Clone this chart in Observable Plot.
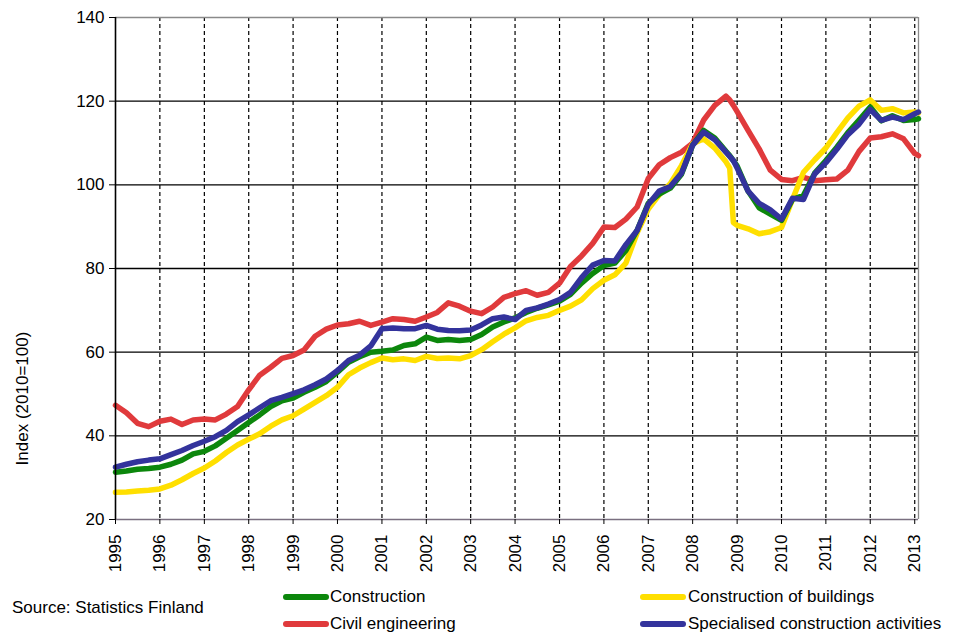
<!DOCTYPE html>
<html>
<head>
<meta charset="utf-8">
<script src="https://cdn.jsdelivr.net/npm/d3@7"></script>
<script src="https://cdn.jsdelivr.net/npm/@observablehq/plot@0.6"></script>
<style>
  html, body { margin: 0; padding: 0; background: #fff; }
  body { font-family: "Liberation Sans", Arial, sans-serif; width: 965px; height: 636px; overflow: hidden; }
  #chart svg { display: block; }
  #legend { position: relative; width: 965px; height: 54px; font-size: 17px; color: #000; }
  #legend .txt { position: absolute; white-space: nowrap; line-height: 20px; }
  #legend .sw { position: absolute; height: 6px; border-radius: 3px; }
</style>
</head>
<body>
<div id="chart"></div>
<div id="legend"></div>
<script>
// ---- data ----
const months = [
  "1995-01","1995-04","1995-07","1995-10",
  "1996-01","1996-04","1996-07","1996-10",
  "1997-01","1997-04","1997-07","1997-10",
  "1998-01","1998-04","1998-07","1998-10",
  "1999-01","1999-04","1999-07","1999-10",
  "2000-01","2000-04","2000-07","2000-10",
  "2001-01","2001-04","2001-07","2001-10",
  "2002-01","2002-04","2002-07","2002-10",
  "2003-01","2003-04","2003-07","2003-10",
  "2004-01","2004-04","2004-07","2004-10",
  "2005-01","2005-04","2005-07","2005-10",
  "2006-01","2006-04","2006-07","2006-10",
  "2007-01","2007-04","2007-07","2007-10",
  "2008-01","2008-04","2008-07","2008-10","2008-11","2008-12",
  "2009-01","2009-04","2009-07","2009-10",
  "2010-01","2010-04","2010-07","2010-10",
  "2011-01","2011-04","2011-07","2011-10",
  "2012-01","2012-04","2012-07","2012-10",
  "2013-01","2013-02"
];

const construction = [
  31.3, 31.6, 32.0, 32.2,
  32.5, 33.2, 34.2, 35.7,
  36.3, 37.6, 39.4, 41.3,
  43.2, 45.0, 47.0, 48.4,
  49.0, 50.4, 51.6, 53.0,
  55.2, 57.6, 58.9, 60.0,
  60.2, 60.5, 61.6, 62.0,
  63.6, 62.8, 63.0, 62.8,
  63.0, 64.2, 66.0, 67.2,
  68.2, 69.5, 70.5, 71.3,
  72.2, 73.8, 76.5, 78.8,
  80.7, 81.3, 84.3, 89.1,
  95.6, 97.8, 99.2, 102.5,
  109.5, 113.0, 111.2, 108.0, 107.0, 105.8,
  104.5, 98.5, 94.5, 93.0,
  91.5, 96.5, 97.5, 102.8,
  105.8, 109.0, 112.5, 115.5,
  118.6, 115.3, 116.5, 115.4,
  115.6, 115.8
];

const buildings = [
  26.5, 26.6, 26.8, 27.0,
  27.3, 28.2, 29.5, 31.0,
  32.3, 34.0, 36.0, 37.8,
  39.2, 40.5, 42.3, 43.8,
  44.8, 46.4, 48.0, 49.6,
  51.6, 54.6, 56.2, 57.5,
  58.6, 58.2, 58.4, 58.0,
  59.0, 58.5, 58.6, 58.4,
  59.2, 60.6, 62.5, 64.3,
  65.8, 67.5, 68.3, 68.8,
  70.0, 71.0, 72.5, 75.2,
  77.2, 78.5, 81.3, 88.5,
  94.2, 97.6, 100.3, 104.6,
  109.8, 111.0, 108.8, 105.5, 104.0, 91.0,
  90.3, 89.5, 88.3, 88.8,
  89.8, 96.5, 103.0, 106.0,
  108.8, 112.5, 116.0, 118.8,
  120.3, 117.8, 118.2, 117.2,
  117.4, 117.2
];

const civil = [
  47.3, 45.5, 43.0, 42.2,
  43.5, 44.0, 42.7, 43.8,
  44.0, 43.8, 45.2, 47.0,
  51.0, 54.5, 56.4, 58.5,
  59.2, 60.5, 63.8, 65.5,
  66.5, 66.8, 67.4, 66.4,
  67.2, 68.0, 67.8, 67.4,
  68.4, 69.5, 71.8, 71.0,
  69.8, 69.2, 70.8, 73.1,
  74.0, 74.7, 73.6, 74.3,
  76.5, 80.5, 83.0, 86.0,
  89.9, 89.8, 91.8, 94.7,
  101.5, 104.8, 106.5, 107.8,
  110.0, 115.5, 119.0, 121.2, 120.3, 119.0,
  117.5, 113.0, 108.6, 103.5,
  101.3, 101.0, 101.8, 101.0,
  101.2, 101.4, 103.5, 108.0,
  111.2, 111.5, 112.2, 111.0,
  107.5, 107.0
];

const specialised = [
  32.5, 33.2, 33.8, 34.2,
  34.5, 35.5, 36.5, 37.7,
  38.7, 39.8, 41.3, 43.4,
  45.0, 46.7, 48.4, 49.2,
  50.1, 51.0, 52.2, 53.6,
  55.6, 58.0, 59.3, 61.5,
  65.6, 65.8, 65.6, 65.6,
  66.4, 65.5, 65.2, 65.1,
  65.3, 66.5, 68.0, 68.4,
  67.8, 70.0, 70.6, 71.5,
  72.6, 74.3, 77.8, 80.8,
  81.9, 81.8, 85.7, 89.1,
  95.3, 98.5, 99.6, 102.8,
  109.5, 112.6, 110.8, 107.8, 106.8, 105.8,
  104.0, 98.5, 95.6, 94.0,
  91.8, 96.8, 96.5, 102.6,
  105.3, 108.5, 112.0, 114.5,
  118.0, 115.4, 116.2, 115.6,
  117.0, 117.4
];

const seriesNames = ["Construction", "Construction of buildings", "Civil engineering", "Specialised construction activities"];
const yTicks = [20, 40, 60, 80, 100, 120, 140];
const yearTicks = ["1995","1996","1997","1998","1999","2000","2001","2002","2003","2004","2005","2006","2007","2008","2009","2010","2011","2012","2013"];
const yLabel = "Index (2010=100)";
const sourceText = "Source: Statistics Finland";

// ---- styling ----
const colors = ["#0c870c", "#ffdf00", "#e03a3c", "#33339c"];
const drawOrder = [2, 1, 0, 3];

const parseMonth = d3.utcParse("%Y-%m");
const parseYear = d3.utcParse("%Y");
const valuesBySeries = [construction, buildings, civil, specialised];

const rows = [];
for (const si of drawOrder) {
  months.forEach((m, i) => rows.push({ date: parseMonth(m), value: valuesBySeries[si][i], name: seriesNames[si] }));
}
const yearDates = yearTicks.map(parseYear);
const xStart = parseMonth(months[0]);
const xEnd = parseMonth(months[months.length - 1]);

const chart = Plot.plot({
  width: 965,
  height: 582,
  marginTop: 17,
  marginLeft: 115,
  marginRight: 47,
  marginBottom: 63,
  style: { fontFamily: "Liberation Sans, Arial, sans-serif", fontSize: "17px", background: "#fff", color: "#000" },
  x: { type: "utc", domain: [xStart, xEnd] },
  y: { domain: [20, 140] },
  color: { domain: seriesNames, range: colors },
  marks: [
    Plot.gridY(yTicks.slice(1, -1), { stroke: "#000", strokeOpacity: 1, strokeWidth: 1.3 }),
    Plot.gridX(yearDates.slice(1), { stroke: "#000", strokeOpacity: 1, strokeWidth: 1.2, strokeDasharray: "4,3" }),
    Plot.ruleY([140], { stroke: "#8a8a8a", strokeWidth: 1.3 }),
    Plot.ruleX([xEnd], { stroke: "#8a8a8a", strokeWidth: 1.3 }),
    Plot.ruleY([20], { stroke: "#7a6f80", strokeWidth: 1.3 }),
    Plot.lineY(rows, { x: "date", y: "value", z: "name", stroke: "name", strokeWidth: 5.5, strokeLinejoin: "round", strokeLinecap: "round" }),
    Plot.ruleX([xStart], { stroke: "#000", strokeWidth: 1.6 }),
    Plot.axisY({ ticks: yTicks, tickSize: 6, tickPadding: 5, fontSize: 17, label: null, stroke: "#000" }),
    Plot.axisX({ ticks: yearDates, tickFormat: d3.utcFormat("%Y"), tickRotate: -90, tickSize: 5, tickPadding: 10, fontSize: 17, label: null }),
    Plot.text([yLabel], { frameAnchor: "left", textAnchor: "middle", rotate: -90, dx: -93, dy: 130, fontSize: 17, fill: "#000" })
  ]
});
document.getElementById("chart").appendChild(chart);

// ---- legend ----
const legend = document.getElementById("legend");
const src = document.createElement("div");
src.className = "txt"; src.textContent = sourceText;
src.style.left = "12px"; src.style.top = "16px";
legend.appendChild(src);
const legendPos = [
  { sx: 283, tx: 330, cy: 15 },
  { sx: 640, tx: 688, cy: 15 },
  { sx: 283, tx: 330, cy: 42 },
  { sx: 640, tx: 688, cy: 42 }
];
const legendOrder = [0, 1, 2, 3];
legendOrder.forEach((si, k) => {
  const p = legendPos[k];
  const sw = document.createElement("div");
  sw.className = "sw";
  sw.style.left = p.sx + "px"; sw.style.width = "46px";
  sw.style.top = (p.cy - 3) + "px"; sw.style.background = colors[si];
  legend.appendChild(sw);
  const t = document.createElement("div");
  t.className = "txt"; t.textContent = seriesNames[si];
  t.style.left = p.tx + "px"; t.style.top = (p.cy - 10) + "px";
  legend.appendChild(t);
});
</script>
</body>
</html>
